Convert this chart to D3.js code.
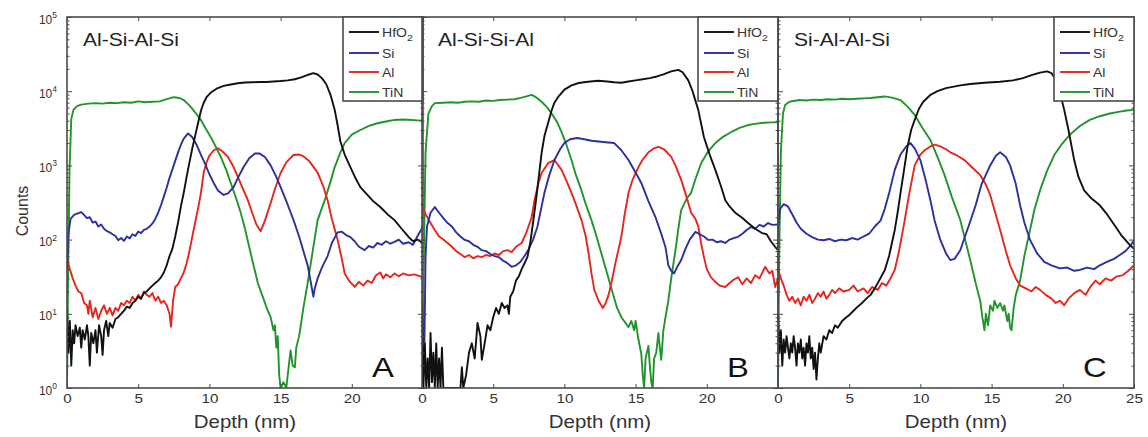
<!DOCTYPE html>
<html>
<head>
<meta charset="utf-8">
<script src="https://cdn.jsdelivr.net/npm/d3@7"></script>
<style>
  html, body { margin: 0; padding: 0; background: #fff; }
  svg { display: block; font-family: "Liberation Sans", Arial, sans-serif; }
</style>
</head>
<body>
<svg id="chart" width="1148" height="437"></svg>
<script>
// Depth profiles: [depth (nm), counts]
const panelTitles = ["Al-Si-Al-Si", "Al-Si-Si-Al", "Si-Al-Al-Si"];
const panelLetters = ["A", "B", "C"];
const seriesNames = ["HfO2", "Si", "Al", "TiN"];
const xTicks = [0, 5, 10, 15, 20, 25];
const yTicks = [1, 10, 100, 1000, 10000, 100000];

// Panel A (Al-Si-Al-Si)
const hfo2A = [[0,12],[0.1,3],[0.2,8],[0.3,2],[0.4,6],[0.5,4],[0.6,7],[0.75,5],[0.9,6.5],[1.0,3.5],[1.1,6],[1.25,4.5],[1.4,7],[1.5,5],[1.6,2],[1.7,5.5],[1.85,4],[2.0,6],[2.1,3],[2.25,7],[2.4,5],[2.5,2.8],[2.6,6],[2.75,8],[2.9,5],[3.0,7.5],[3.2,6.5],[3.4,8.5],[3.6,9],[3.8,10],[4.0,11],[4.2,12.5],[4.4,12],[4.6,14],[4.8,15],[5.0,17],[5.2,16],[5.4,19],[5.6,20],[5.8,22],[6.0,24],[6.2,26],[6.4,28],[6.6,31],[6.8,36],[7.0,45],[7.2,60],[7.4,75],[7.6,110],[7.8,170],[8.0,280],[8.2,430],[8.4,700],[8.6,1100],[8.8,1700],[9.0,2500],[9.2,3700],[9.4,5400],[9.6,7000],[9.8,8300],[10.1,9600],[10.5,10800],[11.0,11800],[11.5,12300],[12.0,12800],[12.5,13100],[13.0,13200],[13.5,13300],[14.0,13300],[14.5,13500],[15.0,13700],[15.5,14000],[16.0,14500],[16.5,15500],[17.0,16800],[17.3,17500],[17.6,16800],[17.9,15000],[18.2,12500],[18.5,9000],[18.8,5600],[19.0,3500],[19.2,2100],[19.5,1400],[19.9,950],[20.3,650],[20.6,510],[21.0,420],[21.5,330],[22.0,275],[22.5,220],[23.0,183],[23.5,140],[24.0,108],[24.3,95],[24.6,100],[25,90]];
const siA = [[0,40],[0.1,120],[0.25,190],[0.5,215],[0.75,225],[1.0,235],[1.2,215],[1.4,195],[1.6,200],[1.8,170],[2.0,175],[2.2,150],[2.4,160],[2.6,140],[2.8,130],[3.0,125],[3.2,118],[3.4,112],[3.6,98],[3.8,105],[4.0,96],[4.2,110],[4.4,104],[4.6,118],[4.8,112],[5.0,128],[5.2,122],[5.4,135],[5.6,140],[5.8,150],[6.0,165],[6.2,190],[6.4,230],[6.6,290],[6.8,380],[7.0,500],[7.2,680],[7.4,880],[7.6,1150],[7.8,1500],[8.0,1900],[8.2,2300],[8.5,2700],[8.8,2400],[9.1,1900],[9.4,1400],[9.7,1050],[10.0,760],[10.3,580],[10.6,460],[11.0,400],[11.3,420],[11.7,510],[12.0,680],[12.4,950],[12.8,1250],[13.2,1450],[13.5,1450],[13.9,1300],[14.3,1000],[14.7,700],[15.0,510],[15.4,330],[15.9,185],[16.3,110],[16.6,70],[16.9,45],[17.1,28],[17.3,17],[17.4,22],[17.6,30],[17.9,42],[18.3,60],[18.6,90],[19.0,125],[19.3,128],[19.6,115],[19.9,108],[20.2,95],[20.5,80],[20.9,72],[21.2,82],[21.5,78],[21.8,90],[22.1,85],[22.4,95],[22.7,88],[23.0,93],[23.3,100],[23.6,88],[24.0,92],[24.3,85],[24.6,110],[25,150]];
const alA = [[0,55],[0.2,40],[0.4,30],[0.6,24],[0.8,20],[1.0,19],[1.2,14],[1.4,13],[1.5,10],[1.6,15],[1.8,9],[2.0,12],[2.2,8.5],[2.4,11],[2.6,13],[2.8,10],[3.0,12],[3.2,9.5],[3.4,12],[3.6,11],[3.8,14],[4.0,13],[4.2,15],[4.4,14],[4.6,17],[4.8,15],[5.0,18],[5.2,16],[5.4,20],[5.6,18],[5.8,17],[6.0,19],[6.2,15],[6.4,17],[6.6,14],[6.8,15],[7.0,13],[7.2,10],[7.3,6.7],[7.45,15],[7.6,23],[7.8,25],[8.0,30],[8.2,36],[8.4,48],[8.6,70],[8.8,110],[9.0,170],[9.2,260],[9.4,420],[9.6,800],[9.8,1100],[10.0,1350],[10.3,1600],[10.6,1700],[10.9,1550],[11.3,1300],[11.7,950],[12.0,700],[12.4,460],[12.7,340],[13.0,230],[13.3,160],[13.6,130],[13.9,180],[14.3,310],[14.6,480],[15.0,790],[15.4,1100],[15.9,1380],[16.3,1400],[16.6,1330],[17.0,1150],[17.6,800],[18.0,520],[18.3,340],[18.6,190],[19.0,100],[19.3,55],[19.5,35],[19.8,28],[20.2,23],[20.5,27],[20.8,24],[21.1,28],[21.4,26],[21.7,33],[22.0,36],[22.2,30],[22.4,34],[22.7,31],[23.0,35],[23.3,32],[23.6,35],[24.0,33],[24.4,34],[24.8,32],[25,31]];
const tinA = [[0,1],[0.08,40],[0.18,900],[0.3,4200],[0.45,5600],[0.7,6300],[1.0,6600],[1.5,6800],[2.0,6900],[2.5,6800],[3.0,7000],[3.5,6900],[4.0,7100],[4.5,7000],[5.0,7300],[5.5,7100],[6.0,7200],[6.5,7300],[7.0,7800],[7.5,8300],[7.9,8100],[8.2,7600],[8.5,6700],[8.7,6100],[9.0,5200],[9.4,4100],[9.8,3000],[10.1,2400],[10.5,1700],[10.8,1300],[11.2,850],[11.5,580],[11.9,350],[12.2,230],[12.5,140],[12.8,79],[13.1,45],[13.4,26],[13.7,18],[14.1,11],[14.3,9],[14.5,6],[14.6,7],[14.7,3.5],[14.8,5],[14.9,1.5],[15.0,1],[15.2,1.2],[15.4,1],[15.6,2.2],[15.7,3.2],[15.85,2],[16.0,1.9],[16.1,3.5],[16.3,5],[16.4,6.6],[16.6,12],[16.9,26],[17.2,60],[17.6,183],[18.1,340],[18.5,600],[18.8,950],[19.2,1500],[19.5,2000],[20.0,2600],[20.6,3000],[21.2,3400],[21.8,3700],[22.4,3900],[23.0,4100],[23.6,4150],[24.2,4100],[24.6,4050],[25,4000]];

// Panel B (Al-Si-Si-Al)
const hfo2B = [[0,15],[0.1,1],[0.2,4],[0.3,1],[0.4,2.5],[0.5,1],[0.6,5.5],[0.7,1.2],[0.8,3],[0.9,1],[1.0,4],[1.1,1],[1.2,2.5],[1.3,1],[1.4,3.5],[1.5,1],[1.7,1],[2.0,1],[2.5,1],[2.7,1],[2.8,1.9],[2.9,1],[3.1,1.5],[3.3,3],[3.5,4],[3.7,2.5],[3.9,7.5],[4.1,5],[4.2,2.4],[4.4,4],[4.6,7],[4.8,6],[5.0,9],[5.2,12],[5.4,10],[5.6,14],[5.8,12],[6.0,13],[6.1,10],[6.2,17],[6.4,20],[6.6,28],[6.8,32],[7.0,40],[7.2,48],[7.4,58],[7.6,90],[7.8,170],[8.0,330],[8.2,700],[8.4,1480],[8.6,2500],[8.85,3700],[9.1,5500],[9.3,7000],[9.55,8300],[10.0,10500],[10.5,12000],[11.0,12900],[11.5,13300],[12.0,13600],[12.4,13800],[13.0,13500],[13.5,13200],[14.0,13000],[14.5,13500],[15.0,14000],[15.5,14500],[16.0,15000],[16.5,15800],[17.0,17000],[17.5,18500],[18.0,19400],[18.3,18000],[18.7,14000],[19.0,10000],[19.4,5600],[19.8,2400],[20.2,1400],[20.6,870],[21.0,520],[21.3,340],[21.6,280],[22.0,230],[22.5,195],[22.9,167],[23.4,140],[23.9,122],[24.2,118],[24.5,95],[24.8,80],[25,72]];
const siB = [[0,1],[0.15,2],[0.25,60],[0.35,150],[0.6,230],[0.9,275],[1.2,230],[1.5,195],[1.8,167],[2.1,150],[2.4,125],[2.7,110],[3.0,99],[3.3,95],[3.6,85],[3.9,80],[4.2,72],[4.5,70],[4.8,64],[5.1,60],[5.4,58],[5.7,52],[6.0,48],[6.3,43],[6.6,45],[6.9,50],[7.2,60],[7.5,75],[7.8,100],[8.1,148],[8.4,280],[8.6,427],[8.9,700],[9.3,1180],[9.7,1650],[10.0,2000],[10.4,2250],[10.9,2340],[11.4,2250],[11.9,2150],[12.4,2100],[12.9,2050],[13.5,2000],[14.0,1600],[14.5,1180],[15.0,800],[15.4,580],[15.9,330],[16.4,200],[16.8,120],[17.1,79],[17.3,45],[17.5,38],[17.7,35],[17.9,42],[18.2,53],[18.5,75],[18.8,100],[19.2,127],[19.5,118],[19.8,110],[20.1,99],[20.4,100],[20.7,92],[21.0,95],[21.3,90],[21.6,100],[21.9,105],[22.2,109],[22.5,120],[22.8,135],[23.1,148],[23.4,140],[23.7,158],[24.0,150],[24.3,167],[24.6,158],[25,160]];
const alB = [[0,310],[0.2,230],[0.5,180],[0.9,135],[1.2,110],[1.5,100],[1.8,90],[2.1,80],[2.4,70],[2.7,64],[3.0,58],[3.3,62],[3.6,56],[3.9,60],[4.2,58],[4.5,62],[4.8,60],[5.1,65],[5.4,62],[5.7,70],[6.0,72],[6.3,68],[6.6,80],[7.0,90],[7.3,120],[7.7,200],[7.9,340],[8.2,600],[8.4,790],[8.85,1070],[9.3,1180],[9.8,870],[10.1,650],[10.5,427],[10.8,300],[11.2,183],[11.5,110],[11.7,65],[11.9,35],[12.1,21],[12.4,15],[12.7,12],[12.9,14],[13.1,18],[13.3,26],[13.6,50],[14.0,109],[14.2,200],[14.5,427],[14.8,650],[15.2,950],[15.5,1200],[15.9,1500],[16.3,1700],[16.6,1780],[17.0,1650],[17.5,1300],[17.8,1000],[18.2,640],[18.5,420],[18.9,230],[19.2,190],[19.4,150],[19.6,90],[19.8,58],[20.0,40],[20.3,31],[20.6,27],[20.9,24],[21.3,23],[21.6,26],[21.9,29],[22.2,31],[22.5,25],[22.8,30],[23.1,26],[23.4,33],[23.7,30],[24.1,43],[24.4,35],[24.6,38],[24.8,23],[25,30]];
const tinB = [[0,1],[0.1,30],[0.25,1500],[0.45,5000],[0.7,6300],[0.9,6900],[1.5,7000],[2.0,7100],[2.5,7000],[3.0,7200],[3.5,7300],[4.0,7200],[4.5,7500],[5.0,7400],[5.5,7600],[6.0,7700],[6.5,7800],[7.0,8200],[7.4,8600],[7.7,8900],[8.0,8300],[8.4,7200],[8.8,6000],[9.1,5000],[9.5,3800],[9.8,2800],[10.1,2000],[10.5,1180],[10.8,750],[11.2,460],[11.5,300],[11.9,183],[12.2,120],[12.6,65],[13.0,35],[13.3,22],[13.7,12],[14.0,9],[14.3,7.5],[14.5,6.6],[14.7,8],[14.9,6],[15.0,8],[15.2,4.5],[15.4,2.9],[15.5,1.5],[15.6,1],[15.7,2.5],[15.9,3.7],[16.0,2],[16.1,1.2],[16.2,1],[16.3,2.5],[16.45,3],[16.6,5.5],[16.7,3.5],[16.8,2.4],[16.95,6],[17.1,9],[17.3,15],[17.5,30],[17.8,72],[18.0,140],[18.2,250],[18.6,360],[18.9,427],[19.2,650],[19.6,1070],[20.1,1550],[20.6,2000],[21.1,2400],[21.7,2800],[22.3,3200],[22.9,3500],[23.5,3650],[24.0,3750],[24.5,3800],[25,3800]];

// Panel C (Si-Al-Al-Si)
const hfo2C = [[0,10],[0.1,3],[0.2,6],[0.3,2],[0.4,4.5],[0.5,3],[0.6,5],[0.7,3.5],[0.8,2.5],[0.9,4],[1.0,3],[1.1,5],[1.2,3.5],[1.3,2],[1.4,4],[1.5,3],[1.6,4.5],[1.7,2.5],[1.8,3.5],[1.9,2],[2.0,4],[2.1,3],[2.2,5],[2.3,2.5],[2.4,3.5],[2.5,1.8],[2.6,3],[2.7,1.3],[2.8,2.5],[2.9,4],[3.0,3],[3.2,5],[3.4,4.5],[3.6,6],[3.8,5.5],[4.0,7],[4.2,6.5],[4.5,8],[4.8,9],[5.0,9.6],[5.3,11],[5.6,12.5],[5.9,14],[6.2,16],[6.5,18],[6.8,22],[7.1,28],[7.5,39],[7.8,60],[8.0,90],[8.2,135],[8.4,230],[8.6,420],[8.9,1000],[9.1,1800],[9.35,3000],[9.6,4100],[9.9,5800],[10.2,7200],[10.7,8900],[11.2,10000],[11.8,11000],[12.8,12000],[13.5,12500],[14.5,13000],[15.6,13400],[16.5,14000],[17.2,15000],[17.8,16500],[18.4,17800],[18.9,18500],[19.2,17500],[19.5,14500],[19.8,9500],[20.1,5600],[20.4,3000],[20.8,1180],[21.1,700],[21.5,460],[22.0,360],[22.6,290],[23.1,220],[23.6,160],[24.1,115],[24.7,85],[25,75]];
const siC = [[0,150],[0.15,260],[0.4,300],[0.7,280],[1.0,220],[1.3,170],[1.6,140],[2.0,120],[2.4,108],[2.8,100],[3.2,98],[3.6,102],[4.0,95],[4.4,100],[4.8,98],[5.2,105],[5.6,100],[6.0,110],[6.4,120],[6.8,150],[7.2,180],[7.5,260],[7.8,420],[8.2,870],[8.6,1400],[9.0,1800],[9.3,2000],[9.6,1700],[10.0,1180],[10.4,600],[10.7,340],[11.0,180],[11.4,99],[11.8,65],[12.1,53],[12.4,55],[12.8,72],[13.2,120],[13.6,200],[13.9,300],[14.3,560],[14.9,1000],[15.3,1350],[15.6,1500],[16.0,1300],[16.3,1000],[16.7,560],[17.0,290],[17.3,170],[17.7,99],[18.2,65],[18.7,50],[19.2,45],[19.8,41],[20.3,42],[20.8,38],[21.2,39],[21.7,42],[22.2,40],[22.6,45],[23.1,50],[23.6,55],[24.0,62],[24.4,70],[24.8,85],[25,99]];
const alC = [[0,40],[0.2,30],[0.4,24],[0.6,18],[0.8,15],[1.0,17],[1.2,14],[1.4,16],[1.6,13],[1.8,17],[2.0,15],[2.2,18],[2.4,14],[2.6,16],[2.8,19],[3.0,17],[3.2,20],[3.4,16],[3.6,18],[3.8,21],[4.0,19],[4.3,22],[4.6,20],[5.0,21],[5.3,24],[5.6,20],[6.0,22],[6.3,19],[6.6,23],[7.0,21],[7.3,26],[7.6,24],[7.9,30],[8.2,39],[8.5,70],[8.9,183],[9.2,400],[9.6,1000],[10.0,1400],[10.3,1600],[10.7,1800],[11.0,1900],[11.4,1800],[11.8,1650],[12.1,1500],[12.6,1350],[13.1,1180],[13.6,950],[14.2,740],[14.6,550],[14.9,400],[15.2,250],[15.6,135],[16.0,70],[16.3,45],[16.7,30],[17.0,24],[17.4,22],[17.8,20],[18.1,23],[18.4,21],[18.8,18],[19.2,16],[19.5,14],[19.8,15],[20.1,13],[20.4,16],[20.8,19],[21.2,21],[21.6,18],[22.0,24],[22.3,28],[22.6,25],[23.0,30],[23.4,28],[23.8,32],[24.2,33],[24.6,38],[25,45]];
const tinC = [[0,1],[0.08,50],[0.2,1500],[0.35,5000],[0.5,6500],[0.8,7200],[1.5,7600],[2.0,7500],[2.5,7700],[3.0,7600],[3.5,7800],[4.0,7700],[4.5,7900],[5.0,7800],[5.5,7900],[6.0,8000],[6.5,8100],[7.0,8300],[7.5,8500],[8.0,8200],[8.6,7600],[9.1,6200],[9.6,4800],[10.1,3300],[10.7,2200],[11.2,1300],[11.7,740],[12.2,380],[12.8,183],[13.2,90],[13.5,53],[13.9,25],[14.2,15],[14.35,9],[14.5,6],[14.6,10],[14.75,7],[14.9,13],[15.1,11],[15.2,15],[15.4,12],[15.6,14],[15.8,11],[15.9,13],[16.1,8],[16.2,10],[16.3,6.5],[16.4,6],[16.55,12],[16.7,18],[17.0,28],[17.3,60],[17.7,135],[18.0,250],[18.4,460],[18.9,850],[19.4,1380],[19.9,1900],[20.5,2600],[21.2,3400],[21.9,4100],[22.6,4600],[23.3,5000],[24.0,5300],[24.5,5500],[25,5600]];

const panels = [
  [hfo2A, siA, alA, tinA],
  [hfo2B, siB, alB, tinB],
  [hfo2C, siC, alC, tinC]
];

// ---- layout ----
const colors = ["#111111", "#2c2f9c", "#e5261d", "#20952b"];
const axisColor = "#4a4a4a";
const textColor = "#333";
const panelX = [67, 422, 778];
const panelW = 356;
const plotTop = 17, plotBottom = 388;
const widen = 1.17;   // horizontal glyph stretch used for all upright text

const svg = d3.select("#chart");
const x = d3.scaleLinear().domain([0, 25]).range([0, panelW]);
const y = d3.scaleLog().domain([1, 1e5]).range([plotBottom, plotTop]);

const minorTicks = [];
for (let e = 0; e < 5; e++) for (let m = 2; m <= 9; m++) minorTicks.push(m * Math.pow(10, e));

const line = d3.line()
  .x(d => x(d[0]))
  .y(d => y(Math.max(1, d[1])));

function styleAxis(g) {
  g.select(".domain").remove();
  g.selectAll(".tick line").attr("stroke", axisColor).attr("stroke-width", 1);
  g.selectAll(".tick text").attr("fill", textColor);
}

// upright text placed at (tx, ty) with a horizontal stretch
function wideText(parent, tx, ty, size) {
  return parent.append("text")
    .attr("transform", `translate(${tx},${ty}) scale(${widen},1)`)
    .attr("font-size", size);
}

panels.forEach((series, i) => {
  const g = svg.append("g").attr("transform", `translate(${panelX[i]},0)`);

  g.append("clipPath").attr("id", "clip" + i)
    .append("rect").attr("x", 0).attr("y", plotTop).attr("width", panelW).attr("height", plotBottom - plotTop);

  // curves
  const plot = g.append("g").attr("clip-path", `url(#clip${i})`);
  [3, 2, 1, 0].forEach(k => {
    plot.append("path")
      .datum(series[k])
      .attr("fill", "none")
      .attr("stroke", colors[k])
      .attr("stroke-width", 1.9)
      .attr("stroke-linejoin", "round")
      .attr("d", line);
  });

  // bottom axis
  const xb = g.append("g").attr("transform", `translate(0,${plotBottom})`)
    .call(d3.axisBottom(x).tickValues(i === 2 ? xTicks : xTicks.slice(0, -1))
      .tickSizeInner(-4).tickSizeOuter(0).tickPadding(6))
    .attr("font-size", 13).attr("font-family", null);
  styleAxis(xb);
  xb.selectAll(".tick text").attr("transform", `scale(${widen},1)`);

  // top axis
  const xt = g.append("g").attr("transform", `translate(0,${plotTop})`)
    .call(d3.axisTop(x).tickValues(xTicks).tickSizeInner(-4).tickSizeOuter(0).tickFormat(""));
  styleAxis(xt);

  // left axis (labels on the first panel only)
  const yl = g.append("g")
    .call(d3.axisLeft(y).tickValues(yTicks).tickSizeInner(-5).tickSizeOuter(0).tickPadding(10)
      .tickFormat(i === 0 ? () => "10" : ""))
    .attr("font-size", 12).attr("font-family", null);
  styleAxis(yl);
  if (i === 0) {
    yl.selectAll(".tick text").each(function (d) {
      d3.select(this).attr("dy", "0.5em")
        .append("tspan").attr("dy", "-0.65em").attr("font-size", 8.5)
        .text(Math.round(Math.log10(d)));
    });
  }
  const ylm = g.append("g")
    .call(d3.axisLeft(y).tickValues(minorTicks).tickSizeInner(-2.5).tickSizeOuter(0).tickFormat(""));
  styleAxis(ylm);

  // right axis
  const yr = g.append("g").attr("transform", `translate(${panelW},0)`)
    .call(d3.axisRight(y).tickValues(yTicks).tickSizeInner(-5).tickSizeOuter(0).tickFormat(""));
  styleAxis(yr);
  const yrm = g.append("g").attr("transform", `translate(${panelW},0)`)
    .call(d3.axisRight(y).tickValues(minorTicks).tickSizeInner(-2.5).tickSizeOuter(0).tickFormat(""));
  styleAxis(yrm);

  // frame
  g.append("rect")
    .attr("x", 0).attr("y", plotTop)
    .attr("width", panelW).attr("height", plotBottom - plotTop)
    .attr("fill", "none").attr("stroke", axisColor).attr("stroke-width", 1.6);

  // stack label
  wideText(g, 16, 46, 18).attr("fill", "#222").text(panelTitles[i]);

  // panel letter
  wideText(g, panelW - 51, 377, 28).attr("fill", "#111").text(panelLetters[i]);

  // legend
  const lgX = panelW - 80;
  const lg = g.append("g").attr("transform", `translate(${lgX},${plotTop})`);
  lg.append("rect").attr("x", 0).attr("y", 0).attr("width", 80).attr("height", 84)
    .attr("fill", "#fff").attr("stroke", axisColor).attr("stroke-width", 1.6);
  const rowY = [15, 36, 55, 75];
  seriesNames.forEach((name, k) => {
    lg.append("line")
      .attr("x1", 6).attr("x2", 36).attr("y1", rowY[k]).attr("y2", rowY[k])
      .attr("stroke", colors[k]).attr("stroke-width", 1.9);
    const t = wideText(lg, 39, rowY[k] + 4.5, 12).attr("fill", textColor);
    if (name === "HfO2") {
      t.text("HfO");
      t.append("tspan").attr("font-size", 9).attr("dy", 4).text("2");
    } else {
      t.text(name);
    }
  });

  // x title
  wideText(g, panelW / 2, 428, 17.5)
    .attr("text-anchor", "middle").attr("fill", textColor)
    .text("Depth (nm)");
});

// y title
svg.append("text")
  .attr("transform", "translate(28,211) rotate(-90)")
  .attr("text-anchor", "middle").attr("font-size", 16).attr("fill", textColor)
  .text("Counts");
</script>
</body>
</html>
